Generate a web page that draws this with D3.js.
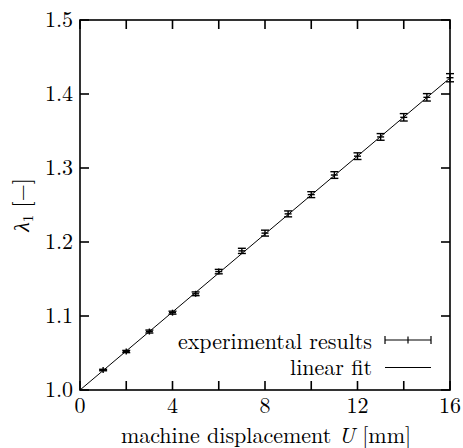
<!DOCTYPE html>
<html><head><meta charset="utf-8">
<script src="https://cdn.jsdelivr.net/npm/d3@7"></script>
<style>body{margin:0;background:#fff}svg{display:block}</style>
</head><body>
<script>
const displacement = [1,2,3,4,5,6,7,8,9,10,11,12,13,14,15,16];
const stretch = [1.027,1.052,1.079,1.1045,1.130,1.160,1.188,1.212,1.238,1.264,1.2905,1.316,1.342,1.3685,1.3955,1.422];
const stretchErr = [0.001,0.0015,0.002,0.002,0.0025,0.003,0.0035,0.004,0.004,0.004,0.0045,0.0045,0.0045,0.005,0.005,0.0055];
const fitIntercept = 1.0;
const fitSlope = 0.02635;
const xTicksMajor = [0,4,8,12,16];
const xTicksMinor = [2,6,10,14];
const yTicks = [1.0,1.1,1.2,1.3,1.4,1.5];
const legendLabels = ["experimental results","linear fit"];

const W=463,H=448;
const m={l:80,r:13,t:20,b:58};
const svg=d3.select("body").append("svg").attr("width",W).attr("height",H);
const x=d3.scaleLinear().domain([0,16]).range([m.l,W-m.r]);
const y=d3.scaleLinear().domain([1.0,1.5]).range([H-m.b,m.t]);
const FF='"Latin Modern Roman","Liberation Serif"';
const fs=22;
const tl=9;

function txt(sel){ return sel.append("text").style("font-family",FF).style("font-size",fs+"px").attr("fill","#000"); }

const g=svg.append("g");
g.append("line").attr("x1",x(0)).attr("y1",y(fitIntercept)).attr("x2",x(16)).attr("y2",y(fitIntercept+fitSlope*16))
 .attr("stroke","#000").attr("stroke-width",1);

const cw=4;
displacement.forEach((d,i)=>{
  const cx=x(d), cy=y(stretch[i]), y1=y(stretch[i]-stretchErr[i]), y2=y(stretch[i]+stretchErr[i]);
  const s=g.append("g").attr("stroke","#000").attr("stroke-width",1.4);
  s.append("line").attr("x1",cx).attr("x2",cx).attr("y1",Math.max(y1,cy+3)).attr("y2",Math.min(y2,cy-3));
  s.append("line").attr("x1",cx-cw).attr("x2",cx+cw).attr("y1",y1).attr("y2",y1);
  s.append("line").attr("x1",cx-cw).attr("x2",cx+cw).attr("y1",y2).attr("y2",y2);
  s.append("line").attr("x1",cx-3.5).attr("x2",cx+3.5).attr("y1",cy).attr("y2",cy);
});

const ax=svg.append("g").attr("stroke","#000").attr("stroke-width",1.6);
ax.append("rect").attr("x",x(0)).attr("y",y(1.5)).attr("width",x(16)-x(0)).attr("height",y(1.0)-y(1.5)).attr("fill","none");
xTicksMajor.concat(xTicksMinor).forEach(t=>{
  ax.append("line").attr("x1",x(t)).attr("x2",x(t)).attr("y1",y(1.0)).attr("y2",y(1.0)-tl);
  ax.append("line").attr("x1",x(t)).attr("x2",x(t)).attr("y1",y(1.5)).attr("y2",y(1.5)+tl);
});
yTicks.forEach(t=>{
  ax.append("line").attr("x1",x(0)).attr("x2",x(0)+tl).attr("y1",y(t)).attr("y2",y(t));
  ax.append("line").attr("x1",x(16)).attr("x2",x(16)-tl).attr("y1",y(t)).attr("y2",y(t));
});

const tx=svg.append("g");
xTicksMajor.forEach(t=>{
  txt(tx).attr("x",x(t)).attr("y",y(1.0)+23).attr("text-anchor","middle").text(t);
});
yTicks.forEach(t=>{
  txt(tx).attr("x",x(0)-7).attr("y",y(t)+7).attr("text-anchor","end").text(t.toFixed(1));
});

const xt=txt(tx).attr("x",266).attr("y",443).attr("text-anchor","middle");
xt.append("tspan").text("machine displacement ");
xt.append("tspan").style("font-style","italic").text("U");
xt.append("tspan").text(" [mm]");

const yt=txt(tx).attr("transform","translate(29,205) rotate(-90)").attr("text-anchor","middle");
yt.append("tspan").style("font-style","italic").text("λ");
yt.append("tspan").style("font-size","15px").attr("dy",4).text("1");
yt.append("tspan").attr("dy",-4).text(" [−]");

const lx=372, s1=385, s2=431;
txt(tx).attr("x",lx).attr("y",348.5).attr("text-anchor","end").text(legendLabels[0]);
txt(tx).attr("x",lx).attr("y",374.5).attr("text-anchor","end").text(legendLabels[1]);
const lg=svg.append("g").attr("stroke","#000").attr("stroke-width",1.2);
lg.append("line").attr("x1",s1).attr("x2",s2).attr("y1",340).attr("y2",340);
lg.append("line").attr("x1",s1).attr("x2",s1).attr("y1",336).attr("y2",344);
lg.append("line").attr("x1",s2).attr("x2",s2).attr("y1",336).attr("y2",344);
lg.append("line").attr("x1",(s1+s2)/2).attr("x2",(s1+s2)/2).attr("y1",336.5).attr("y2",343.5);
lg.append("line").attr("x1",s1).attr("x2",s2).attr("y1",367.5).attr("y2",367.5).attr("stroke-width",1);
</script>
</body></html>
